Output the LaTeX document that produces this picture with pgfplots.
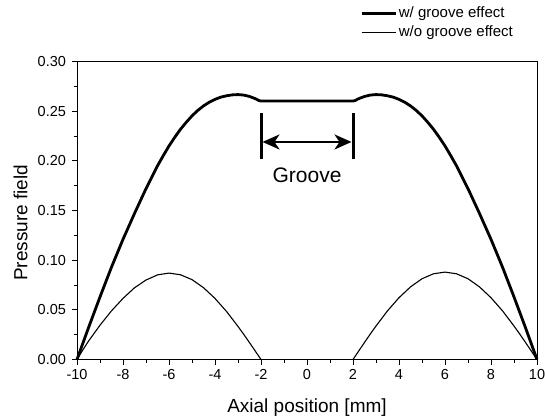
\documentclass[border=0pt]{standalone}
\usepackage{pgfplots}
\pgfplotsset{compat=1.18}
\usepackage{fontspec}
\setmainfont{Liberation Sans}
\usetikzlibrary{arrows.meta}
\begin{document}
\begin{tikzpicture}[x=1pt,y=1pt]
\useasboundingbox (0,0) rectangle (545,416);
\begin{axis}[
  at={(77pt,56.5pt)}, anchor=south west,
  scale only axis, width=460pt, height=298pt,
  xmin=-10, xmax=10, ymin=0, ymax=0.30,
  xtick={-10,-8,-6,-4,-2,0,2,4,6,8,10},
  ytick={0,0.05,0.10,0.15,0.20,0.25,0.30},
  minor x tick num=1, minor y tick num=1,
  tick align=outside, xtick pos=bottom, ytick pos=left,
  major tick length=5pt, minor tick length=3pt,
  axis line style={line width=1pt},
  every tick/.style={black, line width=0.9pt},
  /pgf/number format/assume math mode=true,
  ticklabel style={font=\fontsize{14.5}{16}\selectfont},
  yticklabel style={xshift=-2.5pt, /pgf/number format/fixed, /pgf/number format/fixed zerofill, /pgf/number format/precision=2},
  xticklabel style={yshift=-1pt},
  xlabel={Axial position [mm]}, ylabel={Pressure field},
  label style={font=\fontsize{19}{22}\selectfont},
  xlabel style={at={(axis description cs:0.5,-0.178)}, anchor=base},
  ylabel style={at={(axis description cs:-0.1225,0.4585)}, anchor=center},
  legend style={draw=none, fill=none, at={(axis description cs:0.615,1.19)}, anchor=north west,
    font=\fontsize{15}{17}\selectfont, row sep=2.5pt, inner sep=0pt},
  legend cell align=left,
  legend image code/.code={\draw[#1] (0pt,0pt) -- (34pt,0pt);},
  clip=false,
]
\addplot[black, line width=2.8pt, line join=round] coordinates {
(-10,0) (-9.75,0.016) (-9.5,0.032) (-9.25,0.0475) (-9.0,0.063) (-8.75,0.078) (-8.5,0.093) (-8.25,0.107) (-8.0,0.121) (-7.75,0.134) (-7.5,0.147) (-7.25,0.1595) (-7.0,0.172) (-6.75,0.1835) (-6.5,0.195) (-6.25,0.2052) (-6.0,0.215) (-5.75,0.2237) (-5.5,0.2318) (-5.25,0.2388) (-5.0,0.2453) (-4.75,0.2507) (-4.5,0.2553) (-4.25,0.259) (-4.0,0.2619) (-3.75,0.2641) (-3.5,0.2655) (-3.25,0.2664) (-3.0,0.2667) (-2.75,0.2662) (-2.5,0.2648) (-2.25,0.2626) (-2.1,0.2608) (-2.0,0.2602) (2.0,0.2602) (2.1,0.2608) (2.25,0.2626) (2.5,0.2648) (2.75,0.2662) (3.0,0.2667) (3.25,0.2664) (3.5,0.2655) (3.75,0.2641) (4.0,0.2619) (4.25,0.259) (4.5,0.2553) (4.75,0.2507) (5.0,0.2453) (5.25,0.2388) (5.5,0.2318) (5.75,0.2237) (6.0,0.215) (6.25,0.2052) (6.5,0.195) (6.75,0.1835) (7.0,0.172) (7.25,0.1595) (7.5,0.147) (7.75,0.134) (8.0,0.121) (8.25,0.107) (8.5,0.093) (8.75,0.078) (9.0,0.063) (9.25,0.0475) (9.5,0.032) (9.75,0.016) (10,0)
};
\addlegendentry{w/ groove effect}
\addplot[black, line width=1.1pt, line join=round] coordinates {
(-10,0) (-9.75,0.0095) (-9.5,0.0185) (-9.25,0.0265) (-9,0.0345) (-8.5,0.049) (-8,0.0615) (-7.5,0.0722) (-7,0.0800) (-6.5,0.0852) (-6,0.087) (-5.5,0.0853) (-5,0.0804) (-4.5,0.0723) (-4,0.0615) (-3.5,0.0484) (-3,0.0333) (-2.75,0.0253) (-2.5,0.0170) (-2.25,0.0085) (-2,0)
};
\addlegendentry{w/o groove effect}
\addplot[black, line width=1.1pt, line join=round, forget plot] coordinates {
(2,0) (2.25,0.0086) (2.5,0.0172) (2.75,0.0256) (3,0.0337) (3.5,0.049) (4,0.0622) (4.5,0.0731) (5,0.0813) (5.5,0.0863) (6,0.088) (6.5,0.0863) (7,0.0813) (7.5,0.0731) (8,0.0622) (8.5,0.049) (9,0.0337) (9.25,0.0256) (9.5,0.0172) (9.75,0.0086) (10,0)
};
\draw[line width=3pt] (axis cs:-2,0.2015) -- (axis cs:-2,0.248);
\draw[line width=3pt] (axis cs:2,0.2015) -- (axis cs:2,0.248);
\draw[line width=2.5pt, {Stealth[length=17pt,width=15pt,inset=5pt]}-{Stealth[length=17pt,width=15pt,inset=5pt]}, shorten <=1.5pt, shorten >=1.5pt] (axis cs:-2,0.219) -- (axis cs:2,0.219);
\node[font=\fontsize{21}{24}\selectfont] at (axis cs:0,0.185) {Groove};
\end{axis}
\end{tikzpicture}
\end{document}
